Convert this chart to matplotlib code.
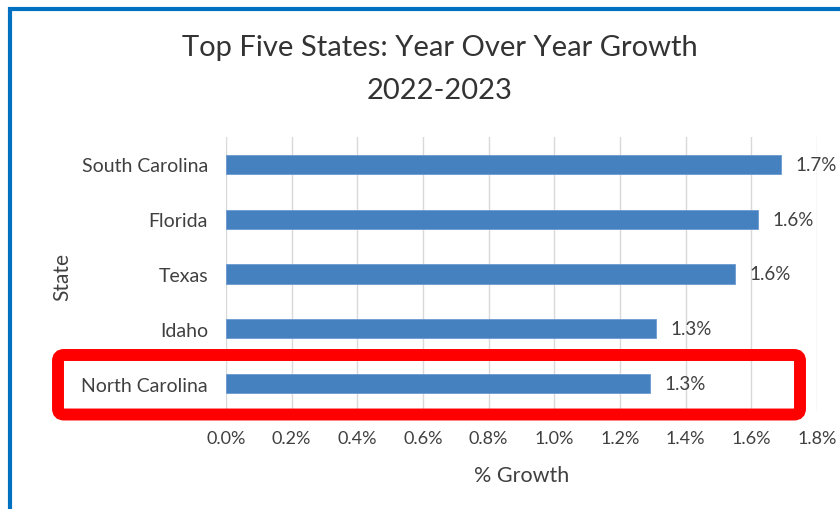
import matplotlib
matplotlib.use("Agg")
import matplotlib.pyplot as plt
from matplotlib.patches import FancyBboxPatch, Rectangle
from matplotlib.ticker import FuncFormatter, MultipleLocator

# data (% growth 2022-2023), top to bottom
states = ["South Carolina", "Florida", "Texas", "Idaho", "North Carolina"]
growth = [1.69, 1.62, 1.55, 1.31, 1.29]
labels = ["1.7%", "1.6%", "1.6%", "1.3%", "1.3%"]

BAR = "#4681BF"
TXT = "#404040"
GRID = "#D9D9D9"

plt.rcParams["font.family"] = ["Lato", "DejaVu Sans"]

fig = plt.figure(figsize=(8.4, 5.1), dpi=100)
fig.patch.set_facecolor("white")

# plot area in pixels: x 226..817, y 138..412 (from top)
W, H = 840, 510
ax = fig.add_axes([226 / W, 1 - 412 / H, (817 - 226) / W, (412 - 138) / H])

ypos = list(range(len(states)))
ax.barh(ypos, growth, height=0.35, color=BAR, edgecolor="#6A9AD0", linewidth=0.6, zorder=3)
for y, v, lab in zip(ypos, growth, labels):
    ax.annotate(lab, (v, y), xytext=(10.5, 0), textcoords="offset points",
                va="center", ha="left", fontsize=13.5, color=TXT)

ax.set_xlim(0, 1.8)
ax.set_ylim(len(states) - 0.5, -0.5)
ax.set_yticks(ypos)
ax.set_yticklabels(states, fontsize=14, color=TXT)
ax.xaxis.set_major_locator(MultipleLocator(0.2))
ax.xaxis.set_major_formatter(FuncFormatter(lambda v, p: f"{v:.1f}%"))
ax.tick_params(axis="x", labelsize=13, labelcolor=TXT, length=0, pad=13.5)
ax.tick_params(axis="y", length=0, pad=13)
ax.grid(axis="x", color=GRID, linewidth=1, zorder=0)
for s in ax.spines.values():
    s.set_visible(False)

ax.set_xlabel("% Growth", fontsize=15.5, color=TXT, labelpad=14)
fig.text(62 / W, 1 - 277 / H, "State", rotation=90, ha="center", va="center",
         fontsize=15, color=TXT)

fig.text(440 / W, 1 - 48 / H, "Top Five States: Year Over Year Growth",
         ha="center", va="center", fontsize=21, color="#333333")
fig.text(440 / W, 1 - 91 / H, "2022-2023",
         ha="center", va="center", fontsize=21, color="#333333")

# blue selection border (left + top) in inches
fig.patches.append(Rectangle((0.10, -0.5), 9.0, (510 - 10) / 100 + 0.5,
                             transform=fig.dpi_scale_trans, fill=False,
                             edgecolor="#0070C0", linewidth=3, zorder=10))

# red highlight around North Carolina
fig.patches.append(FancyBboxPatch((0.58, (510 - 415.5) / 100), 7.42, 0.595,
                                  boxstyle="round,pad=0,rounding_size=0.06",
                                  transform=fig.dpi_scale_trans, fill=False,
                                  edgecolor="#FF0000", linewidth=8.6, zorder=10))

fig.savefig("out.png", dpi=100)
